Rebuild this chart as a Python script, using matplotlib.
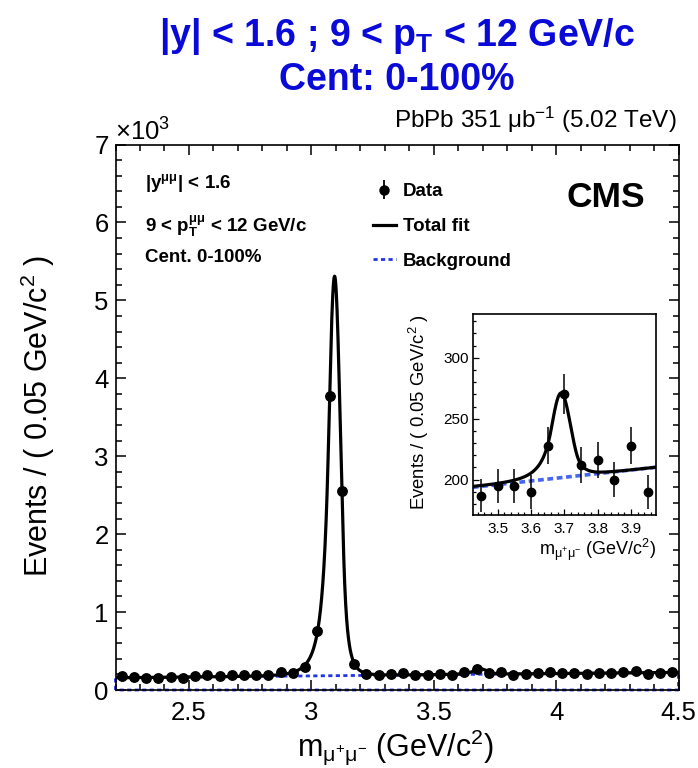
import numpy as np
import matplotlib
matplotlib.use('Agg')
import matplotlib.pyplot as plt
from matplotlib.ticker import MultipleLocator, FuncFormatter
from matplotlib.lines import Line2D

plt.rcParams['font.family'] = ['Liberation Sans', 'DejaVu Sans']
plt.rcParams['mathtext.fontset'] = 'custom'
plt.rcParams['mathtext.rm'] = 'Liberation Sans'
plt.rcParams['mathtext.it'] = 'Liberation Sans:italic'
plt.rcParams['mathtext.bf'] = 'Liberation Sans:bold'

# dimuon mass bins (GeV/c^2), 0.05 wide, and events per bin
mass = np.round(np.arange(2.225, 4.5, 0.05), 3)
counts = np.array([
    184, 163, 150, 154, 171, 154, 180, 188, 180, 197,
    188, 193, 197, 227, 214, 291, 757, 3770, 2550, 340,
    201, 197, 201, 214, 193, 197, 201, 193, 231, 265,
    214, 235, 197, 210, 218, 227, 218, 214, 210, 218,
    214, 227, 240, 201, 214, 227])

# zoomed psi(2S) region
inset_mass = np.round(np.arange(3.45, 3.96, 0.05), 2)
inset_counts = np.array([187, 195, 195, 190, 228, 270, 212, 216, 200, 228, 190])

# fit parameters
jpsi_mass, jpsi_sigma, jpsi_amp = 3.095, 0.024, 5126
psi2s_mass, psi2s_sigma, psi2s_amp = 3.69, 0.0285, 69.5
alpha_l, n_l = 1.05, 5.0
alpha_r, n_r = 1.6, 5.0
bkg_ref, bkg_at, bkg_slope = 193.7, 3.425, 30.0


def crystal_ball(x, m, s):
    t = (x - m) / s
    out = np.exp(-0.5 * t ** 2)
    lo = t < -alpha_l
    hi = t > alpha_r
    out[lo] = np.exp(-0.5 * alpha_l ** 2) * ((n_l / alpha_l) / (n_l / alpha_l - alpha_l - t[lo])) ** n_l
    out[hi] = np.exp(-0.5 * alpha_r ** 2) * ((n_r / alpha_r) / (n_r / alpha_r - alpha_r + t[hi])) ** n_r
    return out


def background(x):
    return bkg_ref + bkg_slope * (x - bkg_at)


def total_fit(x):
    return (background(x) + jpsi_amp * crystal_ball(x, jpsi_mass, jpsi_sigma)
            + psi2s_amp * crystal_ball(x, psi2s_mass, psi2s_sigma))


W, H = 698, 768
fig = plt.figure(figsize=(W / 100, H / 100), dpi=100)


def fx(px):
    return px / W


def fy(py):
    return 1 - py / H


blue = '#2233ee'

# ---- main plot
ax = fig.add_axes([fx(115.5), fy(690), fx(678.5) - fx(115.5), fy(144.5) - fy(690)])
xs = np.linspace(2.2, 4.5, 3000)
bx = np.concatenate([[2.2], xs, [4.5, 2.2]])
by = np.concatenate([[0], background(xs), [0, 0]])
ax.plot(bx, by, color=blue, lw=2, ls=(0, (1.5, 1.2)), zorder=2, clip_on=False)
ax.plot(xs, total_fit(xs), color='black', lw=2.3, zorder=3)
ax.errorbar(mass, counts, yerr=np.sqrt(counts), fmt='o', color='black', ms=6.8,
            elinewidth=1.3, capsize=0, zorder=4)

ax.set_xlim(2.2, 4.5)
ax.set_ylim(0, 7000)
ax.xaxis.set_major_locator(MultipleLocator(0.5))
ax.xaxis.set_minor_locator(MultipleLocator(0.1))
ax.yaxis.set_major_locator(MultipleLocator(1000))
ax.yaxis.set_minor_locator(MultipleLocator(200))
ax.xaxis.set_major_formatter(FuncFormatter(lambda v, p: '%g' % v))
ax.yaxis.set_major_formatter(FuncFormatter(lambda v, p: '%g' % (v / 1000)))
ax.tick_params(which='both', direction='in', top=True, right=True, labelsize=18.5, width=1.1)
ax.tick_params(which='major', length=7.5)
ax.tick_params(which='minor', length=4.3)
ax.tick_params(axis='x', pad=8)
ax.tick_params(axis='y', pad=5)
for sp in ax.spines.values():
    sp.set_linewidth(1.2)

ax.set_xlabel(r'm$_{\mathrm{μ^{+}μ^{-}}}$ (GeV/c$^{2}$)', fontsize=22)
ax.xaxis.set_label_coords(0.4965, -0.068)
ax.set_ylabel(r'Events / ( 0.05 GeV/c$^{2}$ )', fontsize=22)
ax.yaxis.set_label_coords(-0.104, 0.502)

handles = [
    ax.errorbar([], [], yerr=[], fmt='o', color='black', ms=6.5, elinewidth=1.3, capsize=0),
    Line2D([], [], color='black', lw=2.3),
    Line2D([], [], color=blue, lw=2, ls=(0, (1.5, 1.2))),
]
ax.legend(handles, ['Data', 'Total fit', 'Background'], loc='upper left',
          bbox_to_anchor=((372.7 - 115.5) / 563, (690 - 183) / 545.5),
          frameon=False, borderpad=0, borderaxespad=0, handlelength=1.24,
          handletextpad=0.36, labelspacing=0.95, prop={'weight': 'bold', 'size': 13.5})

# ---- inset
ai = fig.add_axes([fx(472.7), fy(515), fx(656) - fx(472.7), fy(314) - fy(515)])
xi = np.linspace(3.425, 3.975, 800)
ai.plot(xi, background(xi), color='#4466f0', lw=2.6, ls=(0, (1.6, 1.0)), zorder=2)
ai.plot(xi, total_fit(xi), color='black', lw=2.3, zorder=3)
ai.errorbar(inset_mass, inset_counts, yerr=np.sqrt(inset_counts), fmt='o', color='black',
            ms=6, elinewidth=1.1, capsize=0, zorder=4)
ai.set_xlim(3.425, 3.975)
ai.set_ylim(171, 336)
ai.xaxis.set_major_locator(MultipleLocator(0.1))
ai.xaxis.set_minor_locator(MultipleLocator(0.02))
ai.yaxis.set_major_locator(MultipleLocator(50))
ai.yaxis.set_minor_locator(MultipleLocator(10))
ai.xaxis.set_major_formatter(FuncFormatter(lambda v, p: '%g' % round(v, 2)))
ai.tick_params(which='both', direction='in', labelsize=11, width=0.9)
ai.tick_params(which='major', length=4.5)
ai.tick_params(which='minor', length=2.5)
ai.tick_params(axis='x', pad=5)
ai.tick_params(axis='y', pad=3)
for sp in ai.spines.values():
    sp.set_linewidth(1.2)
ai.set_xlabel(r'm$_{\mathrm{μ^{+}μ^{-}}}$ (GeV/c$^{2}$)', fontsize=13, loc='right')
ai.xaxis.set_label_coords(1.0, -0.11)
ai.set_ylabel(r'Events / ( 0.05 GeV/c$^{2}$ )', fontsize=13.3, loc='top')
ai.yaxis.set_label_coords(-0.225, 1.0)

# ---- texts
title_col = '#0a0ad8'
fig.text(fx(397), fy(46), r'|y| < 1.6 ; 9 < p$_{\mathbf{T}}$ < 12 GeV/c', ha='center', va='baseline',
         fontsize=27, fontweight='bold', color=title_col)
fig.text(fx(397), fy(90), 'Cent: 0-100%', ha='center', va='baseline',
         fontsize=27, fontweight='bold', color=title_col)
fig.text(fx(677), fy(128), r'PbPb 351 μb$^{-1}$ (5.02 TeV)', ha='right', va='baseline', fontsize=17.5)
fig.text(fx(115), fy(141), r'$\times$10$^{3}$', ha='left', va='baseline', fontsize=18.5)

fig.text(fx(145), fy(188), r'|y$^{\mathbf{μμ}}$| < 1.6', ha='left', va='baseline',
         fontsize=13.5, fontweight='bold')
fig.text(fx(145), fy(232), r'9 < p$_{\mathbf{T}}^{\mathbf{μμ}}$ < 12 GeV/c', ha='left', va='baseline',
         fontsize=13.5, fontweight='bold')
fig.text(fx(145), fy(262), 'Cent. 0-100%', ha='left', va='baseline',
         fontsize=13.5, fontweight='bold')
fig.text(fx(645), fy(207), 'CMS', ha='right', va='baseline', fontsize=25.5, fontweight='bold')

fig.savefig('out.png', dpi=100)
